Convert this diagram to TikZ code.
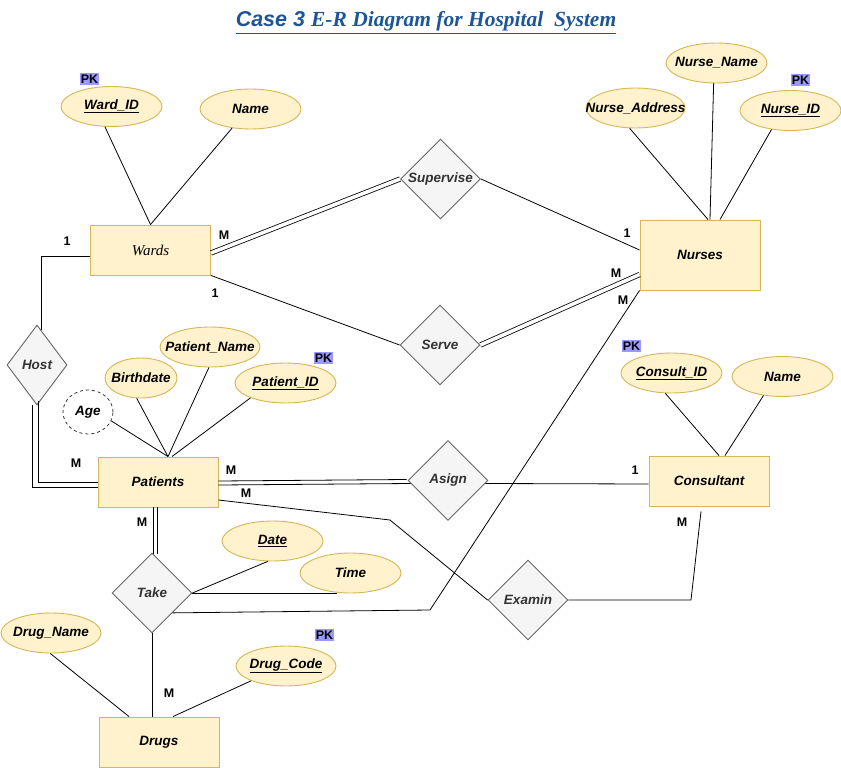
\documentclass[tikz,border=0pt]{standalone}
\usepackage{fontspec}
\setmainfont{Liberation Sans}
\newfontfamily\serifT{Liberation Serif}
\usetikzlibrary{shapes.geometric}
\definecolor{entfill}{HTML}{FFF2CC}
\definecolor{entdraw}{HTML}{D6B656}
\definecolor{relfill}{HTML}{F5F5F5}
\definecolor{reldraw}{HTML}{666666}
\definecolor{reltext}{HTML}{333333}
\definecolor{pkfill}{HTML}{9999FF}
\definecolor{titleblue}{HTML}{1F5597}
\newcommand{\zw}[1]{\makebox[0pt][c]{#1}}
\begin{document}
\begin{tikzpicture}[x=1pt,y=-1pt,
  lbl/.style={font=\fontsize{13.5}{16}\selectfont\bfseries\itshape},
  entity/.style={lbl, rectangle, draw=entdraw, fill=entfill, line width=0.9pt, minimum width=120pt, minimum height=50pt, inner sep=0pt},
  rel/.style={lbl, diamond, draw=reldraw, fill=relfill, text=reltext, line width=0.9pt, minimum width=80pt, minimum height=80pt, inner sep=0pt},
  attr/.style={lbl, ellipse, draw=entdraw, fill=entfill, line width=0.9pt, minimum width=101pt, minimum height=40pt, inner sep=0pt},
  pk/.style={fill=pkfill, inner xsep=1pt, inner ysep=2pt, font=\fontsize{12.5}{14}\selectfont\bfseries},
  card/.style={font=\fontsize{12.5}{14}\selectfont\bfseries, inner sep=0pt},
  conn/.style={line width=0.8pt, black},
  dbl/.style={line width=0.8pt, double=white, double distance=3.6pt, draw=black}
]
\useasboundingbox (0,0) rectangle (841,768);

% title
\node[anchor=base, text=titleblue, inner sep=0pt, font=\fontsize{21.5}{24}\selectfont\bfseries\itshape] (title) at (426,27)
  {\underline{Case 3 {\serifT E-R Diagram for Hospital\ \ System}}};

% entities
\node[entity, font=\fontsize{15}{18}\selectfont\serifT\itshape] (Wards) at (150.5,250) {\zw{Wards}};
\node[entity, minimum height=70pt] (Nurses) at (700,255) {\zw{Nurses}};
\node[entity] (Patients) at (158,482) {\zw{Patients}};
\node[entity] (Consultant) at (709,481) {\zw{Consultant}};
\node[entity] (Drugs) at (159,742) {\zw{Drugs}};

% relationships
\node[rel] (Supervise) at (440.5,179) {\zw{Supervise}};
\node[rel] (Serve) at (440,345) {\zw{Serve}};
\node[rel] (Asign) at (448,480.5) {\zw{Asign}};
\node[rel] (Examin) at (528,600) {\zw{Examin}};
\node[rel, minimum width=60pt] (Host) at (37,365) {\zw{Host}};
\node[rel] (Take) at (152,593) {\zw{Take}};

% attributes
\node[attr] (WardID) at (111.5,106.5) {\zw{\underline{Ward\_ID}}};
\node[pk] (pk1) at (89.5,79) {PK};
\node[attr] (WName) at (250.5,109) {\zw{Name}};
\node[attr] (NName) at (716.5,63) {\zw{Nurse\_Name}};
\node[attr, minimum width=99pt] (NAddr) at (635.5,108) {\zw{Nurse\_Address}};
\node[attr] (NID) at (790.5,110.5) {\zw{\underline{Nurse\_ID}}};
\node[pk] (pk2) at (800.5,80) {PK};
\node[attr, minimum width=100pt] (PName) at (210,347) {\zw{Patient\_Name}};
\node[attr, minimum width=72pt] (Birth) at (141,378) {\zw{Birthdate}};
\node[attr] (PID) at (285.5,383) {\zw{\underline{Patient\_ID}}};
\node[pk] (pk3) at (323.5,358) {PK};
\node[lbl, ellipse, draw=reltext, dashed, fill=white, line width=0.8pt, minimum width=50pt, minimum height=44pt, inner sep=0pt] (Age) at (88,412) {\zw{Age}};
\node[attr] (CID) at (671.5,373) {\zw{\underline{Consult\_ID}}};
\node[pk] (pk4) at (631.5,346) {PK};
\node[attr] (CName) at (782.5,376.5) {\zw{Name}};
\node[attr] (Date) at (272.5,541) {\zw{\underline{Date}}};
\node[attr] (Time) at (350.5,573) {\zw{Time}};
\node[attr, minimum width=100pt] (DName) at (51,633) {\zw{Drug\_Name}};
\node[attr, minimum width=100pt] (DCode) at (286,666) {\zw{\underline{Drug\_Code}}};
\node[pk] (pk5) at (324.5,635) {PK};

% attribute connectors
\draw[conn] (WardID.252) -- (Wards.north);
\draw[conn] (WName.226) -- (Wards.north);
\draw[conn] (NAddr.254) -- ([xshift=8pt]Nurses.north);
\draw[conn] (NName.262) -- ([xshift=10pt]Nurses.north);
\draw[conn] (NID.225) -- ([xshift=20pt]Nurses.north);
\draw[conn] (Birth.258) -- ([xshift=10pt]Patients.north);
\draw[conn] (PName.267) -- ([xshift=10pt]Patients.north);
\draw[conn] (PID.203) -- ([xshift=14pt]Patients.north);
\draw[conn] (Age.339) -- ([xshift=10pt]Patients.north);
\draw[conn] (CID.253) -- ([xshift=10pt]Consultant.north);
\draw[conn] (CName.225) -- ([xshift=16pt]Consultant.north);
\draw[conn] (Date.257) -- (Take.east);
\draw[conn] (Take.east) -- (Take.east -| Time.236);
\draw[conn] (DName.268) -- ([xshift=-30pt]Drugs.north);
\draw[conn] (DCode.203) -- ([xshift=14pt]Drugs.north);

% relationship connectors
\coordinate (tn) at (430,610);
\coordinate (pe) at (390,520);
\coordinate (ec) at (691,600);
\draw[dbl] ([yshift=-3pt]Wards.east) -- (Supervise.west);
\draw[conn] (Supervise.east) -- ([yshift=5pt]Nurses.west);
\draw[conn] (Wards.south east) -- (Serve.west);
\draw[dbl] (Serve.east) -- ([yshift=-19.5pt]Nurses.west);
\draw[conn] ([xshift=4pt,yshift=-5pt]Host.north) |- ([yshift=-6pt]Wards.west);
% Host = Patients (double, drawn as two lines)
\draw[conn] ([xshift=-5pt]Host.south) |- ([yshift=-5pt]Patients.west);
\draw[conn] ([xshift=1pt,yshift=4pt]Host.south) |- (Patients.west);
% Patients = Asign
\draw[conn] ([yshift=1pt]Patients.east) -- ([yshift=1pt,xshift=-1pt]Asign.west);
\draw[conn] ([yshift=-3pt]Patients.east) -- ([yshift=-3pt,xshift=3pt]Asign.west);
\draw[conn] ([yshift=-3pt,xshift=-3pt]Asign.east) -- ([yshift=-3pt]Consultant.west);
\draw[conn] ([yshift=-18pt]Patients.east) -- (pe) -- (Examin.west);
\draw[conn] (Examin.east) -- (ec) -- ([xshift=-8pt,yshift=-5pt]Consultant.south);
% Patients = Take
\draw[conn] ([xshift=-5pt]Patients.south) -- ([xshift=1pt,yshift=-1pt]Take.north);
\draw[conn] ([xshift=-1pt]Patients.south) -- ([xshift=5pt,yshift=-1pt]Take.north);
\draw[conn] (Take.south) -- (Take.south |- Drugs.north);
\draw[conn] (Take.-44) -- (tn) -- (Nurses.south west);

% cardinalities
\node[card] (c1) at (67,241) {1};
\node[card] (c2) at (224,235) {M};
\node[card] (c3) at (627,233) {1};
\node[card] (c4) at (215,293) {1};
\node[card] (c5) at (616,273) {M};
\node[card] (c6) at (623,300) {M};
\node[card] (c7) at (76,463) {M};
\node[card] (c8) at (231,470) {M};
\node[card] (c9) at (246,493) {M};
\node[card] (c10) at (635,470) {1};
\node[card] (c11) at (142,522) {M};
\node[card] (c12) at (682,522) {M};
\node[card] (c13) at (169,693) {M};
\end{tikzpicture}
\end{document}
